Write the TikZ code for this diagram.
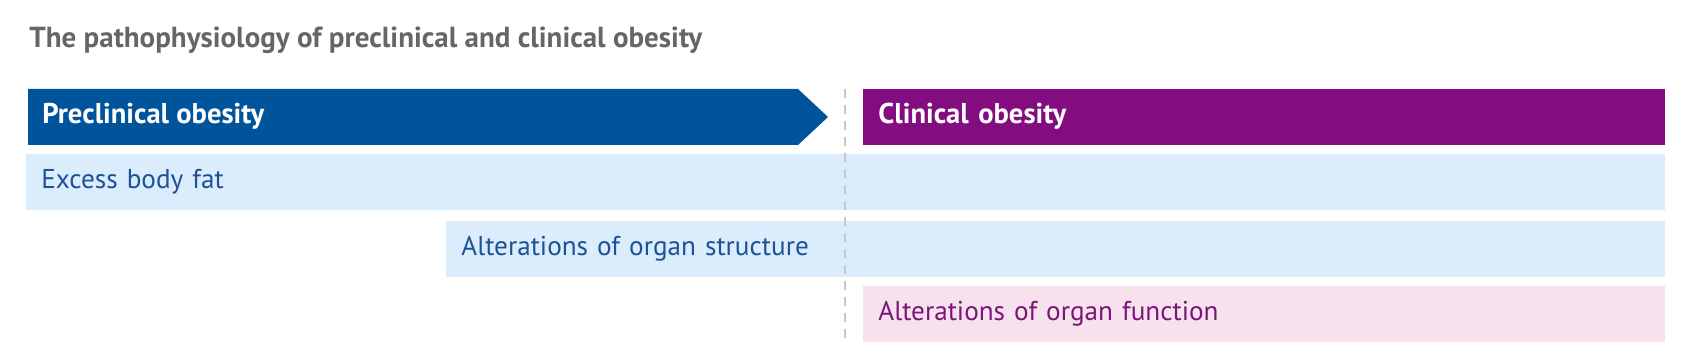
\documentclass[tikz,border=0pt]{standalone}
\usepackage{fontspec}
\setmainfont{PT Sans}
\usetikzlibrary{positioning}
\definecolor{lancetblue}{RGB}{0,84,155}
\definecolor{lancetpurple}{RGB}{131,13,128}
\definecolor{bandblue}{RGB}{219,236,252}
\definecolor{bandpink}{RGB}{247,225,236}
\definecolor{textblue}{RGB}{28,82,150}
\definecolor{textpurple}{RGB}{122,22,122}
\definecolor{titlegrey}{RGB}{102,102,102}
\definecolor{dashgrey}{RGB}{200,200,200}
\tikzset{
  band/.style={anchor=north west, minimum height=28pt, inner xsep=7.5pt, inner ysep=0pt,
    align=left, text height=0.92em, text depth=0.28em, font=\fontsize{13.6}{16}\selectfont},
  head/.style={band, font=\fontsize{14.3}{16}\bfseries\selectfont, text=white}
}
\begin{document}
\begin{tikzpicture}[x=0.5pt,y=-0.5pt]
\useasboundingbox (0,0) rectangle (1690,362);
\node[anchor=base west, inner sep=0pt, text=titlegrey, font=\fontsize{14.5}{17}\bfseries\selectfont] (title) at (29,48) {The pathophysiology of preclinical and clinical obesity};
% header row
\fill[lancetblue] (28,89) -- (798,89) -- (828,117) -- (798,145) -- (28,145) -- cycle;
\node[anchor=west, inner sep=0pt, text=white, font=\fontsize{14.3}{16}\bfseries\selectfont, text height=0.92em, text depth=0.28em] (pre) at (42,117) {Preclinical obesity};
\node[head, fill=lancetpurple, text width=386pt] (clin) at (863,89) {Clinical obesity};
% bands
\node[band, fill=bandblue, text=textblue, text width=804.5pt] (fat) at (26,154) {Excess body fat};
\node[band, fill=bandblue, text=textblue, text width=594.5pt] (struct) at (446,221) {Alterations of organ structure};
\node[band, fill=bandpink, text=textpurple, text width=386pt] (func) at (863,286) {Alterations of organ function};
% boundary between the two stages
\draw[dashgrey, line width=1pt, dash pattern=on 4.5pt off 3.5pt] (845,89) -- (845,342);
\end{tikzpicture}
\end{document}
